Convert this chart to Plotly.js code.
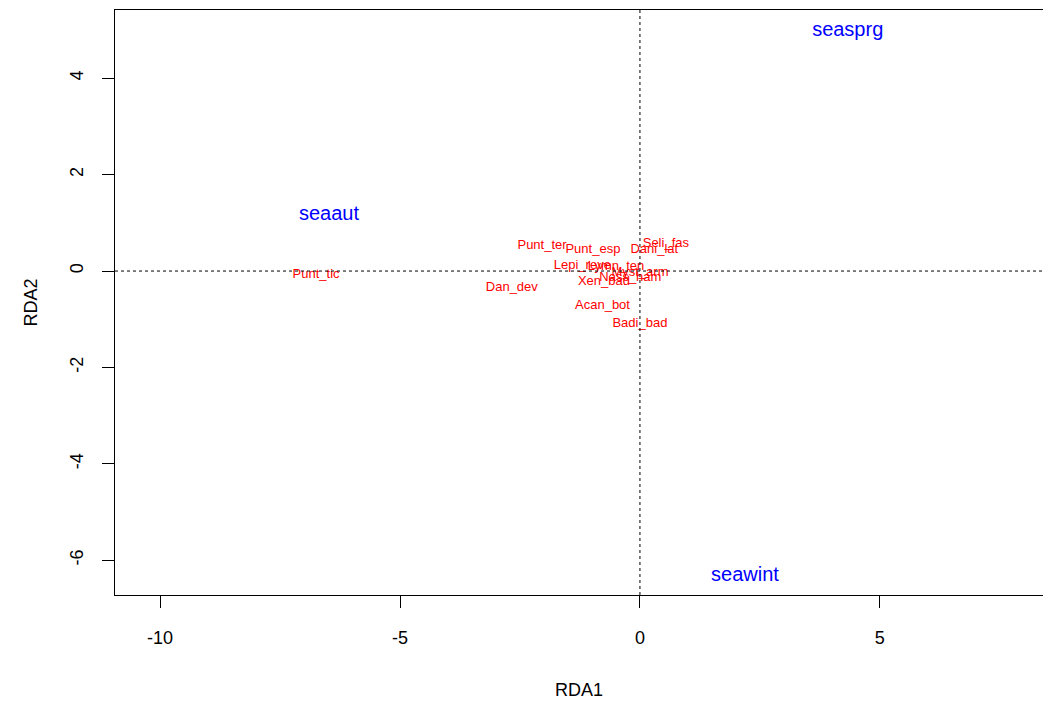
<!DOCTYPE html>
<html><head><meta charset="utf-8">
<script src="https://cdn.plot.ly/plotly-3.0.1.min.js"></script>
<style>html,body{margin:0;padding:0;background:#fff}</style>
</head><body>
<div id="chart" style="width:1043px;height:707px"></div>
<script>
// Species scores (red labels)
const speciesNames = ["Punt_tic","Dan_dev","Punt_ter","Punt_esp","Dani_lat","Seli_fas","Lepi_reve","Lymn_ten","Myst_arm","Nass_ham","Xen_bad","Acan_bot","Badi_bad"];
const speciesX = [-6.75,-2.67,-2.04,-0.98,0.3,0.54,-1.2,-0.5,0.0,-0.2,-0.75,-0.78,0.0];
const speciesY = [-0.08,-0.35,0.52,0.44,0.45,0.57,0.11,0.08,-0.03,-0.13,-0.23,-0.73,-1.1];
// Centroids of factor levels (blue labels)
const centroidNames = ["seasprg","seaaut","seawint"];
const centroidX = [4.33,-6.48,2.19];
const centroidY = [4.98,1.16,-6.33];

const xTicks = [-10,-5,0,5];
const yTicks = [-6,-4,-2,0,2,4];

const font = "Liberation Sans, Arial, sans-serif";

const traces = [
  {x: speciesX, y: speciesY, text: speciesNames, mode: "text", type: "scatter",
   textfont: {family: font, size: 13, color: "#ff0000"}, hoverinfo: "text", cliponaxis: false},
  {x: centroidX, y: centroidY, text: centroidNames, mode: "text", type: "scatter",
   textfont: {family: font, size: 20, color: "#0000ff"}, hoverinfo: "text", cliponaxis: false}
];

const layout = {
  width: 1043, height: 707,
  margin: {l: 115, r: 0, t: 10, b: 112},
  paper_bgcolor: "#fff", plot_bgcolor: "#fff",
  showlegend: false,
  font: {family: font, size: 16, color: "#000"},
  xaxis: {
    range: [-10.94, 8.4], tickvals: xTicks, ticktext: xTicks.map(String),
    showgrid: false, zeroline: false, showline: true, mirror: true, linecolor: "#000", linewidth: 1,
    ticks: "outside", ticklen: 12, tickcolor: "#000", ticklabelstandoff: 14,
    tickfont: {family: font, size: 18, color: "#000"},
    title: {text: "RDA1", font: {family: font, size: 18, color: "#000"}, standoff: 36}
  },
  yaxis: {
    range: [-6.72, 5.415], tickvals: yTicks, ticktext: yTicks.map(String),
    showgrid: false, zeroline: false, showline: true, linecolor: "#000", linewidth: 1,
    ticks: "outside", ticklen: 12, tickcolor: "#000", tickangle: -90, ticklabelstandoff: 12,
    tickfont: {family: font, size: 18, color: "#000"},
    title: {text: "RDA2", font: {family: font, size: 18, color: "#000"}, standoff: 24}
  },
  shapes: [
    {type: "line", xref: "x", yref: "paper", x0: 0, x1: 0, y0: 0, y1: 1, line: {color: "#000", width: 1, dash: "dot"}},
    {type: "line", xref: "paper", yref: "y", x0: 0, x1: 1, y0: 0, y1: 0, line: {color: "#000", width: 1, dash: "dot"}}
  ]
};

Plotly.newPlot("chart", traces, layout, {displayModeBar: false, staticPlot: true});
</script>
</body></html>
